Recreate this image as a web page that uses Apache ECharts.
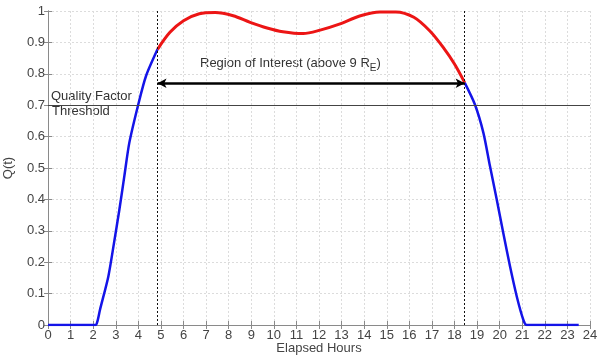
<!DOCTYPE html>
<html>
<head>
<meta charset="utf-8">
<script src="https://cdn.jsdelivr.net/npm/echarts@6/dist/echarts.min.js"></script>
<style>
  html, body { margin: 0; padding: 0; background: #fff; }
  #chart { width: 597px; height: 357px; }
</style>
</head>
<body>
<div id="chart"></div>
<script>
// Q(t) curve in three pieces
const riseHours = [0, 2.1, 2.2, 2.3, 2.67, 2.92, 3.16, 3.38, 3.6, 4.0, 4.34, 4.85];
const riseQ     = [0, 0, 0.015, 0.048, 0.154, 0.26, 0.367, 0.474, 0.58, 0.703, 0.793, 0.878];

const roiHours = [4.85, 5.4, 6.0, 6.7, 7.4, 8.2, 8.95, 9.7, 10.4, 11.3, 12.05, 12.9, 13.8, 14.7, 15.4, 16.2, 16.9, 17.5, 18.0, 18.45];
const roiQ     = [0.878, 0.932, 0.969, 0.991, 0.995, 0.985, 0.964, 0.946, 0.934, 0.928, 0.939, 0.958, 0.984, 0.997, 0.997, 0.98, 0.937, 0.884, 0.831, 0.772];

const fallHours = [18.45, 18.9, 19.28, 19.57, 19.87, 20.16, 20.46, 20.76, 21.05, 21.2, 23.5];
const fallQ     = [0.772, 0.703, 0.612, 0.506, 0.4, 0.293, 0.186, 0.09, 0.016, 0, 0];

const roiStart = 4.85;
const roiEnd = 18.45;
const arrowQ = 0.77;
const threshold = 0.7;

const font = 'Liberation Sans, Arial, sans-serif';

function pairs(xs, ys) {
  return xs.map((x, i) => [x, ys[i]]);
}

const chart = echarts.init(document.getElementById('chart'));

const axisLine = { show: true, lineStyle: { color: '#8a8a8a', width: 1 } };
const tick = { show: true, inside: true, length: 4, lineStyle: { color: '#8a8a8a' } };
const grid = { show: true, lineStyle: { color: '#dcdcdc', type: [2, 2], width: 1 } };

const option = {
  animation: false,
  grid: { left: 48, right: 7, top: 11, bottom: 32, outerBoundsMode: 'none' },
  xAxis: [{
    type: 'value', min: 0, max: 24, interval: 1,
    name: 'Elapsed Hours', nameLocation: 'middle', nameGap: 17, nameMoveOverlap: false,
    nameTextStyle: { fontFamily: font, fontSize: 13, color: '#444' },
    axisLine: axisLine, axisTick: tick, splitLine: grid,
    axisLabel: { fontFamily: font, fontSize: 13, color: '#444', margin: 4 }
  }, {
    type: 'value', min: 0, max: 24, interval: 1, position: 'top',
    axisLine: axisLine, axisTick: tick, splitLine: { show: false },
    axisLabel: { show: false }
  }],
  yAxis: [{
    type: 'value', min: 0, max: 1, interval: 0.1,
    name: 'Q(t)', nameLocation: 'middle', nameGap: 33, nameMoveOverlap: false,
    nameTextStyle: { fontFamily: font, fontSize: 13, color: '#444' },
    axisLine: axisLine, axisTick: tick, splitLine: grid,
    axisLabel: {
      fontFamily: font, fontSize: 13, color: '#444', margin: 3,
      formatter: v => String(+v.toFixed(1))
    }
  }, {
    type: 'value', min: 0, max: 1, interval: 0.1, position: 'right',
    axisLine: axisLine, axisTick: tick, splitLine: { show: false },
    axisLabel: { show: false }
  }],
  series: [{
    type: 'line', data: pairs(riseHours, riseQ), symbol: 'none',
    smooth: 0.25,
    lineStyle: { color: '#1414e8', width: 2.5 }, z: 3
  }, {
    type: 'line', data: pairs(roiHours, roiQ), symbol: 'none',
    smooth: 0.3,
    lineStyle: { color: '#ec1515', width: 3 }, z: 4
  }, {
    type: 'line', data: pairs(fallHours, fallQ), symbol: 'none',
    smooth: 0.25,
    lineStyle: { color: '#1414e8', width: 2.5 }, z: 3,
    markLine: {
      silent: true, symbol: 'none', animation: false,
      label: { show: false },
      data: [
        { xAxis: roiStart, lineStyle: { color: '#111', type: [2, 2], width: 1 } },
        { xAxis: roiEnd, lineStyle: { color: '#111', type: [2, 2], width: 1 } },
        { yAxis: threshold, lineStyle: { color: '#444', type: 'solid', width: 1.2 } }
      ]
    }
  }, {
    type: 'line', data: [], symbol: 'none', z: 5,
    markLine: {
      silent: true, animation: false,
      symbol: ['arrow', 'arrow'], symbolSize: [7, 9],
      label: { show: false },
      lineStyle: { color: '#000', type: 'solid', width: 2.5 },
      data: [[{ coord: [roiStart, arrowQ] }, { coord: [roiEnd, arrowQ] }]]
    }
  }],
  graphic: [{
    type: 'text', left: 200, top: 57,
    style: {
      text: '{a|Region of Interest (above 9 R}{s|E}{a|)}',
      rich: {
        a: { fontFamily: font, fontSize: 13, fill: '#333' },
        s: { fontFamily: font, fontSize: 10, fill: '#333', padding: [10, 0, 0, 0] }
      }
    }
  }, {
    type: 'text', left: 51, top: 90,
    style: { text: 'Quality Factor', fontFamily: font, fontSize: 13, fill: '#333' }
  }, {
    type: 'text', left: 52, top: 105,
    style: { text: 'Threshold', fontFamily: font, fontSize: 13, fill: '#333' }
  }]
};

chart.setOption(option);
</script>
</body>
</html>
